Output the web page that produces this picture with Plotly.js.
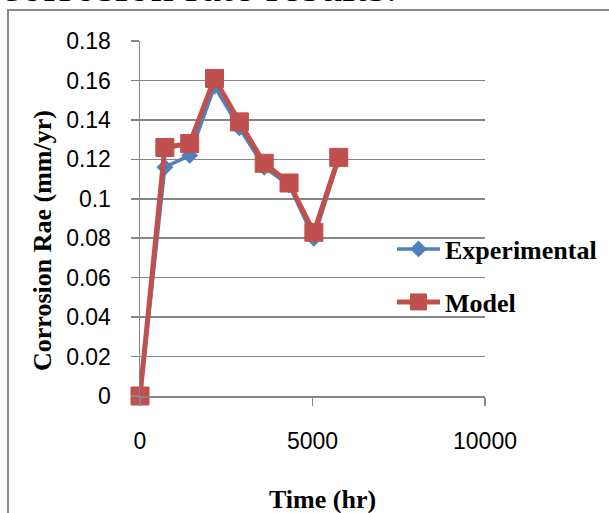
<!DOCTYPE html>
<html>
<head>
<meta charset="utf-8">
<script src="https://cdn.plot.ly/plotly-3.0.1.min.js"></script>
<style>
html,body{margin:0;padding:0;background:#fff;width:609px;height:513px;overflow:hidden;}
#frame{position:absolute;left:7px;top:9px;width:700px;height:600px;border:2px solid #8c8c8c;box-sizing:border-box;}
#chart{position:absolute;left:0;top:0;width:609px;height:513px;}
#caption{position:absolute;left:0;top:-37px;font-family:"Liberation Serif","Times New Roman",serif;font-size:46px;line-height:1;white-space:nowrap;color:#000;}
</style>
</head>
<body>
<div id="caption">corrosion rate results.</div>
<div id="frame"></div>
<div id="chart"></div>
<script>
// Data
const timeHr = [0, 720, 1440, 2160, 2880, 3600, 4320, 5040, 5760];
const experimental = [0, 0.116, 0.122, 0.157, 0.136, 0.116, 0.107, 0.080, 0.120];
const model = [0, 0.126, 0.128, 0.161, 0.139, 0.118, 0.108, 0.083, 0.121];
const yTicks = [0, 0.02, 0.04, 0.06, 0.08, 0.1, 0.12, 0.14, 0.16, 0.18];
const yTickText = ['0', '0.02', '0.04', '0.06', '0.08', '0.1', '0.12', '0.14', '0.16', '0.18'];
const xTicks = [0, 5000, 10000];
const xTickText = ['0', '5000', '10000'];

const plotL = 140, plotR = 124, plotT = 41, plotB = 117;
const W = 609, H = 513;
const pw = W - plotL - plotR, ph = H - plotT - plotB;
const px2x = p => (p - plotL) / pw;
const py2y = p => (H - plotB - p) / ph;

const grid = '#868686';
const boldSerif = {family: '"Liberation Serif", "Times New Roman", serif', size: 26, color: '#000'};

const traces = [
  {
    x: timeHr, y: experimental, name: 'Experimental', type: 'scatter', mode: 'lines+markers',
    line: {color: '#4F81BD', width: 3.5},
    marker: {symbol: 'diamond', size: 13, color: '#4F81BD'},
    cliponaxis: false,
    legend: 'legend'
  },
  {
    x: timeHr, y: model, name: 'Model', type: 'scatter', mode: 'lines+markers',
    line: {color: '#C0504D', width: 5},
    marker: {symbol: 'square', size: 18, color: '#C0504D', line: {color: '#C0504D', width: 1}},
    cliponaxis: false,
    legend: 'legend2'
  }
];

const legendCommon = {
  xanchor: 'left', yanchor: 'middle', bgcolor: 'rgba(0,0,0,0)', borderwidth: 0,
  font: {family: boldSerif.family, size: 26, color: '#000', weight: 'bold'},
  itemwidth: 43
};

const layout = {
  width: W, height: H,
  margin: {l: plotL, r: plotR, t: plotT, b: plotB, pad: 0, autoexpand: false},
  paper_bgcolor: 'rgba(0,0,0,0)', plot_bgcolor: 'rgba(0,0,0,0)',
  showlegend: true,
  legend: Object.assign({x: px2x(392), y: py2y(249)}, legendCommon),
  legend2: Object.assign({x: px2x(392), y: py2y(302)}, legendCommon),
  xaxis: {
    range: [0, 10000], tickvals: xTicks, ticktext: xTickText,
    showgrid: false, zeroline: false,
    showline: true, linecolor: grid, linewidth: 1.5,
    ticks: 'outside', ticklen: 8, tickcolor: grid, tickwidth: 1.5,
    ticklabelstandoff: 16,
    tickfont: {family: '"Liberation Sans", Arial, sans-serif', size: 23, color: '#000'},
    fixedrange: true
  },
  yaxis: {
    range: [0, 0.18], tickvals: yTicks, ticktext: yTickText,
    showgrid: true, gridcolor: grid, gridwidth: 1.5, zeroline: false,
    showline: true, linecolor: grid, linewidth: 1.5,
    ticks: 'outside', ticklen: 8, tickcolor: grid, tickwidth: 1.5,
    ticklabelstandoff: 15,
    tickfont: {family: '"Liberation Sans", Arial, sans-serif', size: 23, color: '#000'},
    fixedrange: true
  },
  annotations: [
    {text: '<b>Corrosion Rae (mm/yr)</b>', xref: 'paper', yref: 'paper', x: px2x(42), y: py2y(241),
     xanchor: 'center', yanchor: 'middle', textangle: -90, showarrow: false,
     font: Object.assign({}, boldSerif, {size: 26})},
    {text: '<b>Time (hr)</b>', xref: 'paper', yref: 'paper', x: px2x(322), y: py2y(499),
     xanchor: 'center', yanchor: 'middle', showarrow: false, font: boldSerif}
  ]
};

Plotly.newPlot('chart', traces, layout, {displayModeBar: false, staticPlot: true});
</script>
</body>
</html>
